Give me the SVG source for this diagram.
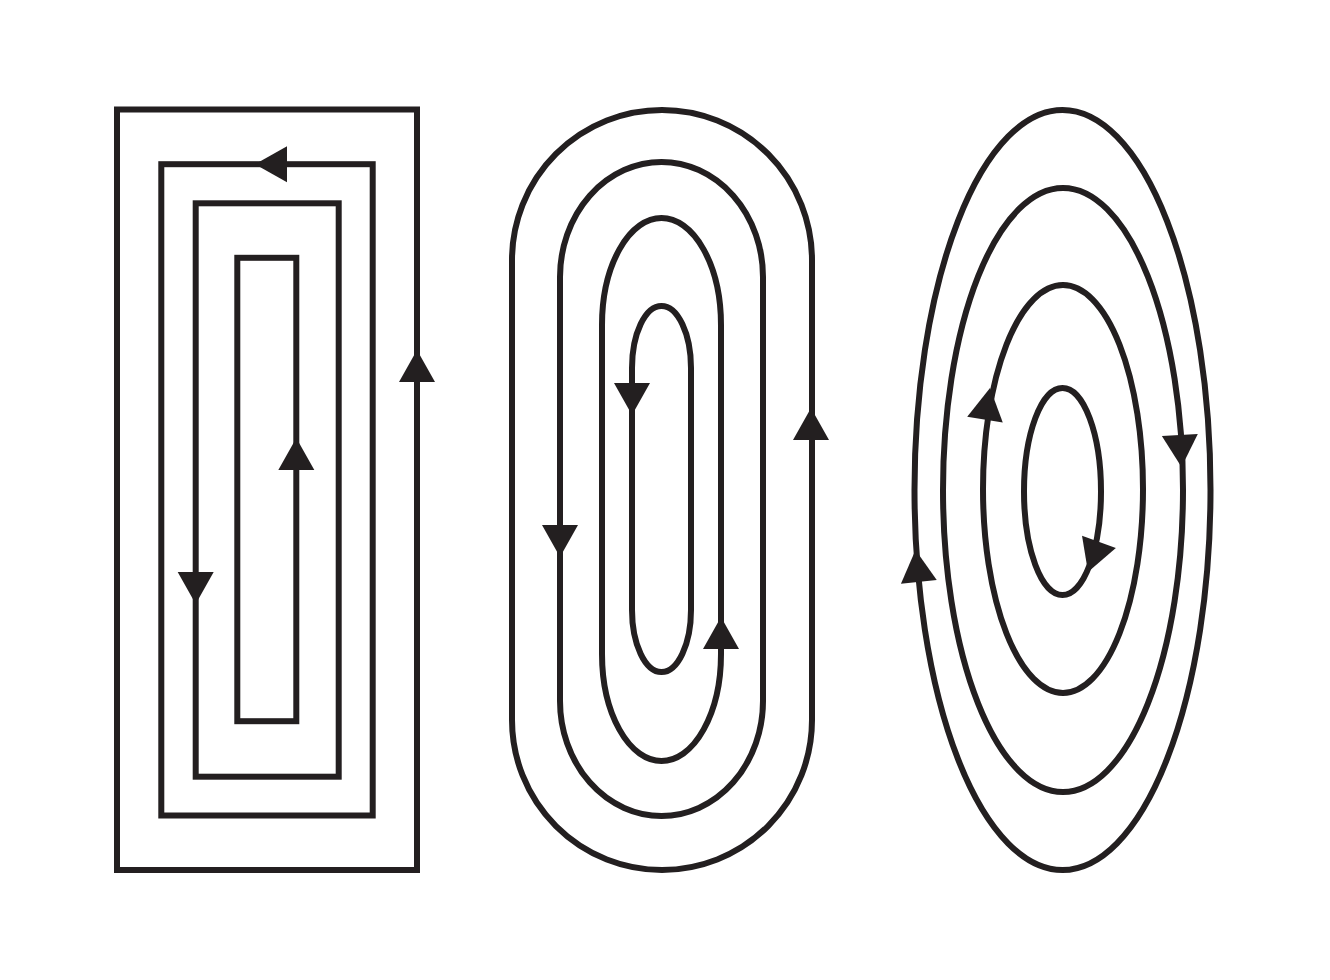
<svg xmlns="http://www.w3.org/2000/svg" width="1330" height="980" viewBox="0 0 1330 980">
<style>
.ln{fill:none;stroke:#231f20;stroke-width:6;stroke-linejoin:miter}
.ah{fill:#231f20;stroke:none}
</style>
<defs>
<path id="tri" d="M0,0 L18,32 L-18,32 Z"/>
</defs>
<rect width="1330" height="980" fill="#ffffff"/>
<g id="rect-spiral">
<rect class="ln" x="117" y="109.5" width="300" height="760.5"/>
<rect class="ln" x="161.3" y="164.2" width="211.4" height="651.3"/>
<rect class="ln" x="195.7" y="203.3" width="143" height="573.4"/>
<rect class="ln" x="237.3" y="257.8" width="59" height="463.4"/>
</g>
<g id="stadium-spiral">
<path class="ln" d="M512,260 A150,150 0 0 1 812,260 L812,720 A150,150 0 0 1 512,720 Z"/>
<path class="ln" d="M560,277 A101.5,115 0 0 1 763,277 L763,701 A101.5,115 0 0 1 560,701 Z"/>
<path class="ln" d="M602,325 A59.5,107 0 0 1 721,325 L721,654 A59.5,107 0 0 1 602,654 Z"/>
<path class="ln" d="M632,368 A29.5,62 0 0 1 691,368 L691,610 A29.5,62 0 0 1 632,610 Z"/>
</g>
<g id="ellipse-spiral">
<ellipse class="ln" cx="1062.5" cy="490" rx="148" ry="380"/>
<ellipse class="ln" cx="1063" cy="490" rx="120" ry="302"/>
<ellipse class="ln" cx="1063" cy="489" rx="80" ry="204"/>
<ellipse class="ln" cx="1062.5" cy="491.5" rx="38.5" ry="103.5"/>
</g>
<g id="connectors">
<use href="#tri" class="ah" transform="translate(417,350)"/>
<use href="#tri" class="ah" transform="translate(255,164.2) rotate(-90)"/>
<use href="#tri" class="ah" transform="translate(195.7,604) rotate(180)"/>
<use href="#tri" class="ah" transform="translate(296.3,438)"/>
<use href="#tri" class="ah" transform="translate(632,415) rotate(180)"/>
<use href="#tri" class="ah" transform="translate(560,557) rotate(180)"/>
<use href="#tri" class="ah" transform="translate(721,617)"/>
<use href="#tri" class="ah" transform="translate(811,408)"/>
<use href="#tri" class="ah" transform="translate(915.5,550) rotate(-6)"/>
<use href="#tri" class="ah" transform="translate(1181.5,467) rotate(177)"/>
<use href="#tri" class="ah" transform="translate(990,388) rotate(9)"/>
<use href="#tri" class="ah" transform="translate(1088,572) rotate(200)"/>
</g>
</svg>
